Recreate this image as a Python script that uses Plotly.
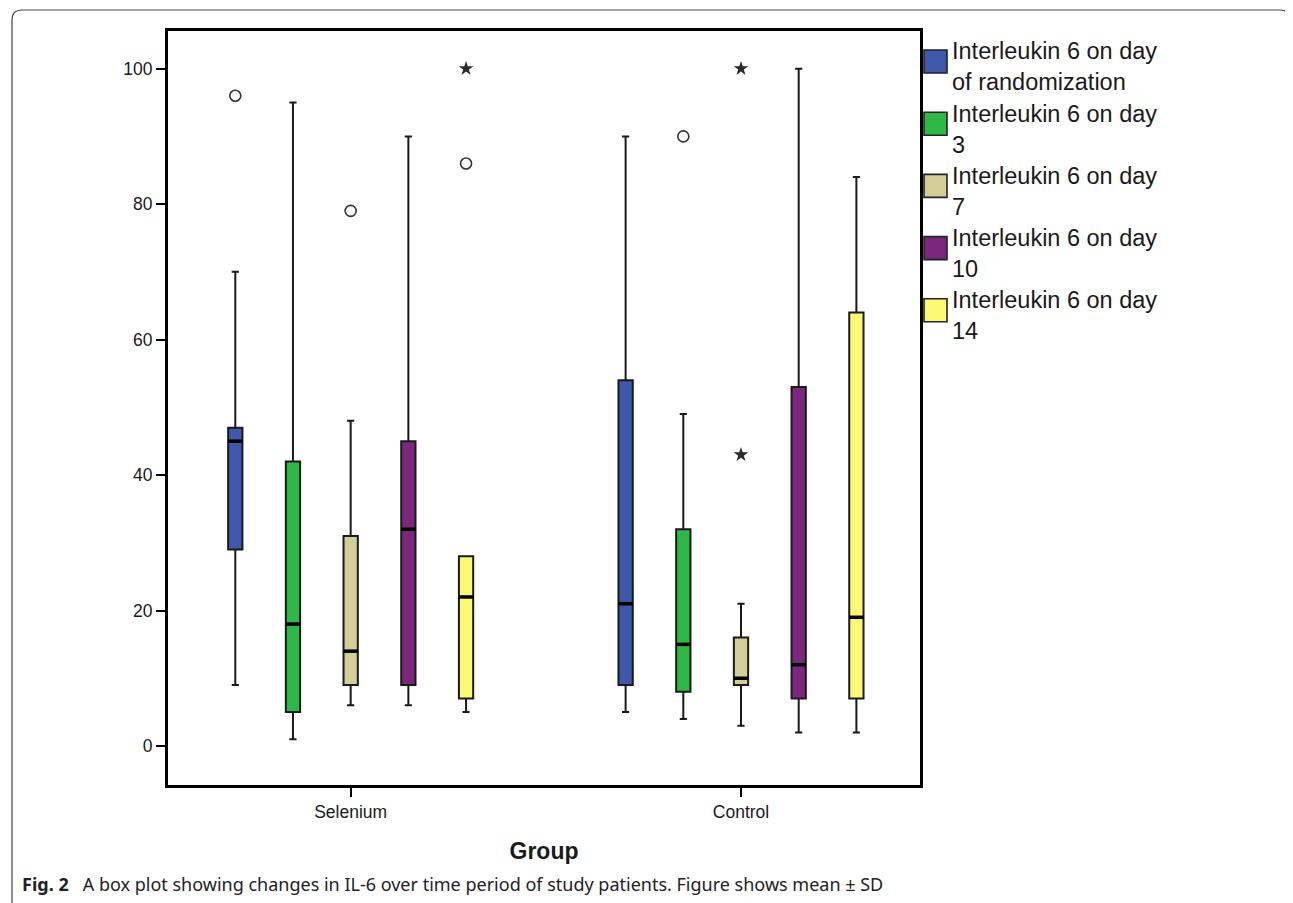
import plotly.graph_objects as go

# ---------------- data ----------------
groups = ["Selenium", "Control"]
series_names = [
    "Interleukin 6 on day of randomization",
    "Interleukin 6 on day 3",
    "Interleukin 6 on day 7",
    "Interleukin 6 on day 10",
    "Interleukin 6 on day 14",
]
legend_lines = [
    ["Interleukin 6 on day", "of randomization"],
    ["Interleukin 6 on day", "3"],
    ["Interleukin 6 on day", "7"],
    ["Interleukin 6 on day", "10"],
    ["Interleukin 6 on day", "14"],
]
colors = ["#3E58AC", "#2EB848", "#D3CE97", "#7B287C", "#FBF873"]

# per series: [Selenium, Control]
lower_fence = [[9, 5], [1, 4], [6, 3], [6, 2], [5, 2]]
q1_vals     = [[29, 9], [5, 8], [9, 9], [9, 7], [7, 7]]
median_vals = [[45, 21], [18, 15], [14, 10], [32, 12], [22, 19]]
q3_vals     = [[47, 54], [42, 32], [31, 16], [45, 53], [28, 64]]
upper_fence = [[70, 90], [95, 49], [48, 21], [90, 100], [28, 84]]

# outliers (circles): group index, series index, value
outlier_group  = [0, 0, 0, 1]
outlier_series = [0, 2, 4, 1]
outlier_value  = [96, 79, 86, 90]
# extreme values (stars)
extreme_group  = [0, 1, 1]
extreme_series = [4, 2, 2]
extreme_value  = [100, 43, 100]

y_ticks = [0, 20, 40, 60, 80, 100]

# ---------------- layout constants ----------------
PAGE_OFF = 8                       # default body margin of the html page
W, H = 1293 - PAGE_OFF, 903 - PAGE_OFF
ML, MT = 168 - PAGE_OFF, 31 - PAGE_OFF
MR, MB = 373, 118
PW, PH = W - ML - MR, H - MT - MB
SERIES_OFFSET = 0.1478
BOX_W = 0.0366
FONT = "Liberation Sans, Arial, sans-serif"


def pos(g, s):
    return g + (s - (len(series_names) - 1) / 2) * SERIES_OFFSET


def px_x(px):
    """reference-screen pixel -> paper x"""
    return (px - PAGE_OFF - ML) / PW


def px_y(py):
    """reference-screen pixel -> paper y"""
    return (MT + PH - (py - PAGE_OFF)) / PH


fig = go.Figure()

for s, name in enumerate(series_names):
    xs = [pos(g, s) for g in range(len(groups))]
    fig.add_trace(go.Box(
        name=name,
        x=xs,
        q1=q1_vals[s], median=median_vals[s], q3=q3_vals[s],
        lowerfence=lower_fence[s], upperfence=upper_fence[s],
        width=BOX_W,
        whiskerwidth=0.5,
        fillcolor=colors[s],
        line=dict(color="#1a1a1a", width=2),
        boxpoints=False,
        showlegend=False,
        hoverinfo="skip",
    ))
    # thicker median line, as in the reference
    mx, my = [], []
    for g in range(len(groups)):
        p = pos(g, s)
        mx += [p - BOX_W / 2, p + BOX_W / 2, None]
        my += [median_vals[s][g], median_vals[s][g], None]
    fig.add_trace(go.Scatter(x=mx, y=my, mode="lines",
                             line=dict(color="black", width=3.5),
                             showlegend=False, hoverinfo="skip"))

fig.add_trace(go.Scatter(
    x=[pos(g, s) for g, s in zip(outlier_group, outlier_series)],
    y=outlier_value, mode="markers",
    marker=dict(symbol="circle-open", size=11, color="#333",
                line=dict(width=1.6, color="#333")),
    showlegend=False, hoverinfo="skip"))

fig.add_trace(go.Scatter(
    x=[pos(g, s) for g, s in zip(extreme_group, extreme_series)],
    y=extreme_value, mode="markers",
    marker=dict(symbol="star", size=11, color="#2a2a2a",
                line=dict(width=0)),
    showlegend=False, hoverinfo="skip"))

shapes = []
annotations = []

# outer rounded border of the figure panel
bx0, bx1, by0, by1, rr = 12, 1290, 10, 903, 10
path = (f"M {px_x(bx0)},{px_y(by1)} L {px_x(bx0)},{px_y(by0 + rr)} "
        f"Q {px_x(bx0)},{px_y(by0)} {px_x(bx0 + rr)},{px_y(by0)} "
        f"L {px_x(bx1 - rr)},{px_y(by0)} "
        f"Q {px_x(bx1)},{px_y(by0)} {px_x(bx1)},{px_y(by0 + rr)} "
        f"L {px_x(bx1)},{px_y(by1)}")
shapes.append(dict(type="path", xref="paper", yref="paper", path=path,
                   line=dict(color="#444", width=1.2)))

# legend drawn to match the SPSS style
LEG_X0, LEG_SQ_W, LEG_SQ_H = 924, 23, 23
LEG_TOP, LEG_PITCH = 50, 62.2
LEG_TEXT_X, TEXT_DY = 951, 17
for k, lines in enumerate(legend_lines):
    top = LEG_TOP + k * LEG_PITCH
    shapes.append(dict(type="rect", xref="paper", yref="paper",
                       x0=px_x(LEG_X0), x1=px_x(LEG_X0 + LEG_SQ_W),
                       y0=px_y(top), y1=px_y(top + LEG_SQ_H),
                       fillcolor=colors[k], line=dict(color="#222", width=1.6)))
    annotations.append(dict(
        xref="paper", yref="paper", x=px_x(LEG_TEXT_X), y=px_y(top + TEXT_DY),
        text="<br>".join(lines), showarrow=False, xanchor="left",
        yanchor="middle", align="left", borderpad=0,
        font=dict(family=FONT, size=23.5, color="#1a1a1a")))

# caption
annotations.append(dict(
    xref="paper", yref="paper", x=px_x(20), y=px_y(884),
    text="<b>Fig. 2</b>\u00a0\u00a0\u00a0A box plot showing changes in IL-6 over time period of study patients. Figure shows mean \u00b1 SD",
    showarrow=False, xanchor="left", yanchor="middle",
    font=dict(family="Noto Sans, sans-serif", size=18, color="#222")))

fig.update_layout(
    width=W, height=H,
    margin=dict(l=ML, r=MR, t=MT, b=MB, autoexpand=False),
    paper_bgcolor="white", plot_bgcolor="white",
    showlegend=False,
    shapes=shapes, annotations=annotations,
    font=dict(family=FONT, color="#1a1a1a"),
    xaxis=dict(
        range=[-0.468, 1.4586],
        tickvals=list(range(len(groups))), ticktext=groups,
        ticks="outside", ticklen=9, tickwidth=2, tickcolor="black",
        showline=True, linewidth=3, linecolor="black", mirror=True,
        showgrid=False, zeroline=False,
        tickfont=dict(family=FONT, size=17.5, color="#1a1a1a"),
        title=dict(text="<b>Group</b>", standoff=22,
                   font=dict(family=FONT, size=23, color="#1a1a1a")),
    ),
    yaxis=dict(
        range=[-5.76, 105.56],
        tickvals=y_ticks,
        ticks="outside", ticklen=9, tickwidth=2, tickcolor="black",
        showline=True, linewidth=3, linecolor="black", mirror=True,
        showgrid=False, zeroline=False,
        tickfont=dict(family=FONT, size=17.5, color="#1a1a1a"),
    ),
)

fig.write_html("out.html")
